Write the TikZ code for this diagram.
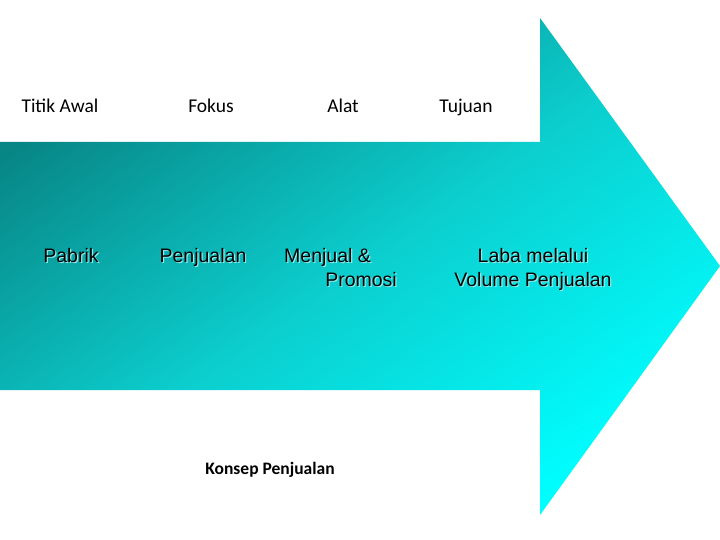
\documentclass[tikz,border=0pt]{standalone}
\usepackage{fontspec}
\setmainfont{Liberation Sans}
\newfontfamily\calib{Carlito}
\definecolor{tealdark}{RGB}{8,134,134}
\definecolor{tealmid}{RGB}{12,206,206}
\definecolor{tealcyan}{RGB}{0,254,255}
\definecolor{shadowc}{RGB}{150,235,235}
\begin{document}
\begin{tikzpicture}[x=1pt,y=-1pt,
  toplabel/.style={font=\calib\fontsize{19.5}{22}\selectfont, text=black, inner sep=0pt, anchor=base},
  bodylabel/.style={font=\fontsize{19.5}{24}\selectfont, inner sep=0pt, anchor=base},
  foot/.style={font=\calib\bfseries\fontsize{17.5}{20}\selectfont, inner sep=0pt, anchor=base}]
\useasboundingbox (0,0) rectangle (720,540);
\fill[white] (0,0) rectangle (720,540);
% arrow
\shade[top color=tealdark, bottom color=tealcyan, middle color=tealmid, shading angle=35]
  (0,142) -- (540,142) -- (540,18) -- (720,266) -- (540,515) -- (540,390) -- (0,390) -- cycle;
% top labels
\node[toplabel] (t1) at (60,113) {Titik Awal};
\node[toplabel] (t2) at (211,113) {Fokus};
\node[toplabel] (t3) at (343,113) {Alat};
\node[toplabel] (t4) at (466,113) {Tujuan};
% body labels with shadows
\foreach \dx/\col in {1.2/shadowc, 0/black}{
  \begin{scope}[shift={(\dx,\dx)}]
  \node[bodylabel, text=\col] at (71,262) {Pabrik};
  \node[bodylabel, text=\col] at (203,262) {Penjualan};
  \node[bodylabel, text=\col, anchor=base west] at (284,262) {Menjual \&};
  \node[bodylabel, text=\col, anchor=base east] at (397,286) {Promosi};
  \node[bodylabel, text=\col] at (533,262) {Laba melalui};
  \node[bodylabel, text=\col] at (533,286) {Volume Penjualan};
  \end{scope}
}
\node[foot] (f) at (270,474) {Konsep Penjualan};
\end{tikzpicture}
\end{document}
